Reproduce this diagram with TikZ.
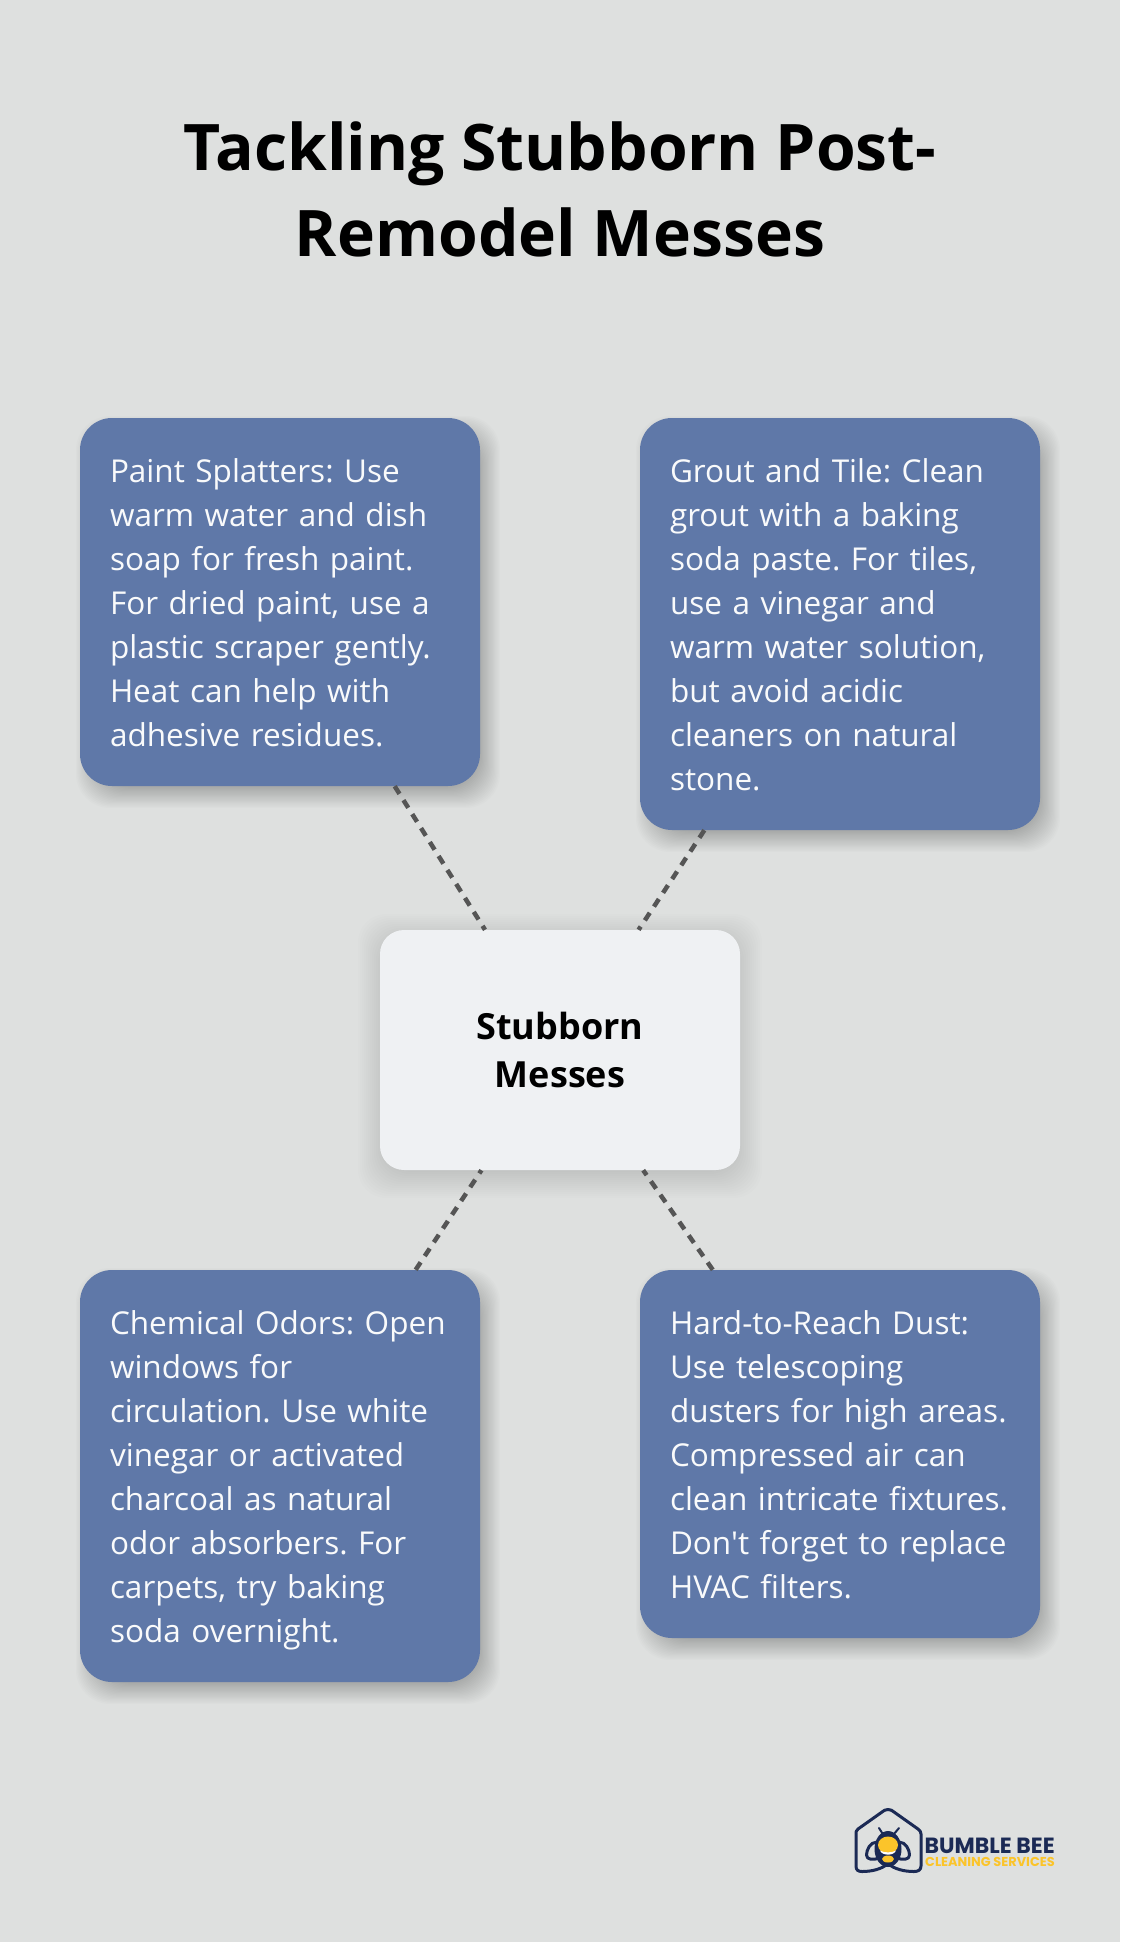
\documentclass[tikz,border=0pt]{standalone}
\usepackage{fontspec}
\setmainfont{Open Sans}[Ligatures=TeXOff]
\newfontfamily\logofont{Poppins}
\frenchspacing
\definecolor{bgc}{HTML}{DEE0DF}
\definecolor{bluec}{HTML}{5F78A8}
\definecolor{centerc}{HTML}{EFF1F3}
\definecolor{linec}{HTML}{555555}
\definecolor{navyc}{HTML}{1B2A55}
\definecolor{beec}{HTML}{FBC42A}
\newcommand{\cardend}[1]{\par\vspace{-#1pt}}
\tikzset{
  x=1pt,y=-1pt,
  card/.style={draw=none,fill=bluec,rounded corners=32pt,text=white!96!bluec,inner sep=30pt,text width=340pt,align=left,
    font=\fontsize{31.5}{44}\selectfont\frenchspacing,minimum width=400pt},
  hub/.style={draw=none,fill=centerc,rounded corners=24pt,text=black,inner sep=0pt,minimum width=360pt,minimum height=240pt,align=center,
    font=\fontsize{36}{48}\selectfont\bfseries},
  link/.style={draw=linec,line width=4.5pt,dash pattern=on 9pt off 7.5pt},
  titletext/.style={text=black,align=center,inner sep=0pt,font=\fontsize{64.2}{86}\selectfont\bfseries},
  logoline/.style={draw=navyc,line width=3pt,line join=round,line cap=round}
}
% x1 y1 x2 y2 radius opacity layers step
\newcommand{\softshadow}[8]{%
  \foreach \i in {1,...,#7}{%
    \pgfmathsetmacro{\e}{(\i-#7/2)*#8}%
    \fill[black,opacity=#6,rounded corners=#5pt] (#1-\e,#2-\e) rectangle (#3+\e,#4+\e);
  }}
\begin{document}
\begin{tikzpicture}
\useasboundingbox (0,0) rectangle (1120,1942);
\fill[bgc] (0,0) rectangle (1120,1942);
% soft shadows
\softshadow{88}{428}{488}{796}{34}{0.011}{20}{1.2}
\softshadow{648}{428}{1048}{840}{34}{0.011}{20}{1.2}
\softshadow{88}{1280}{488}{1692}{34}{0.011}{20}{1.2}
\softshadow{648}{1280}{1048}{1648}{34}{0.011}{20}{1.2}
\softshadow{380}{936}{740}{1176}{28}{0.009}{22}{2}
% nodes
\node[titletext] (title) at (560,189.5) {Tackling Stubborn Post-\\Remodel Messes};
\node[card,minimum height=368pt] (paint) at (280,602) {Paint Splatters: Use\\warm water and dish\\soap for fresh paint.\\For dried paint, use a\\plastic scraper gently.\\Heat can help with\\adhesive residues.\cardend{2.4}};
\node[card,minimum height=412pt] (grout) at (840,624) {Grout and Tile: Clean\\grout with a baking\\soda paste. For tiles,\\use a vinegar and\\warm water solution,\\but avoid acidic\\cleaners on natural\\stone.\cardend{2.4}};
\node[card,minimum height=412pt] (odor) at (280,1476) {Chemical Odors: Open\\windows for\\circulation. Use white\\vinegar or activated\\charcoal as natural\\odor absorbers. For\\carpets, try baking\\soda overnight.\cardend{8.6}};
\node[card,minimum height=368pt] (dust) at (840,1454) {Hard-to-Reach Dust:\\Use telescoping\\dusters for high areas.\\Compressed air can\\clean intricate fixtures.\\Don't forget to replace\\HVAC filters.\cardend{2.4}};
\node[hub] (hubnode) at (560,1050) {Stubborn\\Messes};
% connectors
\draw[link] (paint) -- (hubnode);
\draw[link] (grout) -- (hubnode);
\draw[link] (odor) -- (hubnode);
\draw[link] (dust) -- (hubnode);
% logo: house
\draw[logoline] (888,1809.5)
  .. controls (885,1809.5) and (884,1810.5) .. (882,1812)
  -- (858,1829) .. controls (856,1830.5) and (856,1832) .. (856,1834)
  -- (856,1866) .. controls (856,1870) and (858,1871.5) .. (862,1871.5)
  .. controls (872,1871.5) and (882,1869) .. (888,1863.5)
  .. controls (894,1869) and (904,1871.5) .. (914,1871.5)
  .. controls (918,1871.5) and (921,1870) .. (921,1866)
  -- (921,1834) .. controls (921,1832) and (920,1830.5) .. (918,1829)
  -- (894,1812) .. controls (892,1810.5) and (891,1809.5) .. (888,1809.5) -- cycle;
% logo: wings
\draw[logoline] (877,1842) .. controls (870,1842) and (866.5,1850) .. (866.5,1855)
  .. controls (866.5,1860) and (873,1860) .. (880,1858);
\draw[logoline] (899,1842) .. controls (906,1842) and (909.5,1850) .. (909.5,1855)
  .. controls (909.5,1860) and (903,1860) .. (896,1858);
% logo: antennae
\draw[logoline,line width=2pt] (885,1837.5) -- (879,1828) (891,1837.5) -- (899,1828);
% logo: body
\fill[navyc] (888,1849) ellipse (13.5pt and 18pt);
\fill[beec] (888,1845) ellipse (10pt and 8.5pt);
\fill[beec] (888,1859) ellipse (6pt and 3.5pt);
\fill[white] (880,1850.5) .. controls (884,1853) and (892,1853) .. (896,1850.5) .. controls (894,1856) and (882,1856) .. (880,1850.5) -- cycle;
% logo: words
\node[anchor=base west,inner sep=0pt,text=navyc,font=\logofont\fontsize{22}{22}\selectfont\bfseries] (brand) at (924.5,1853) {BUMBLE BEE};
\node[anchor=base west,inner sep=0pt,text=beec,font=\logofont\fontsize{12.9}{13}\selectfont\bfseries] (brandsub) at (925,1866) {CLEANING SERVICES};
\end{tikzpicture}
\end{document}
